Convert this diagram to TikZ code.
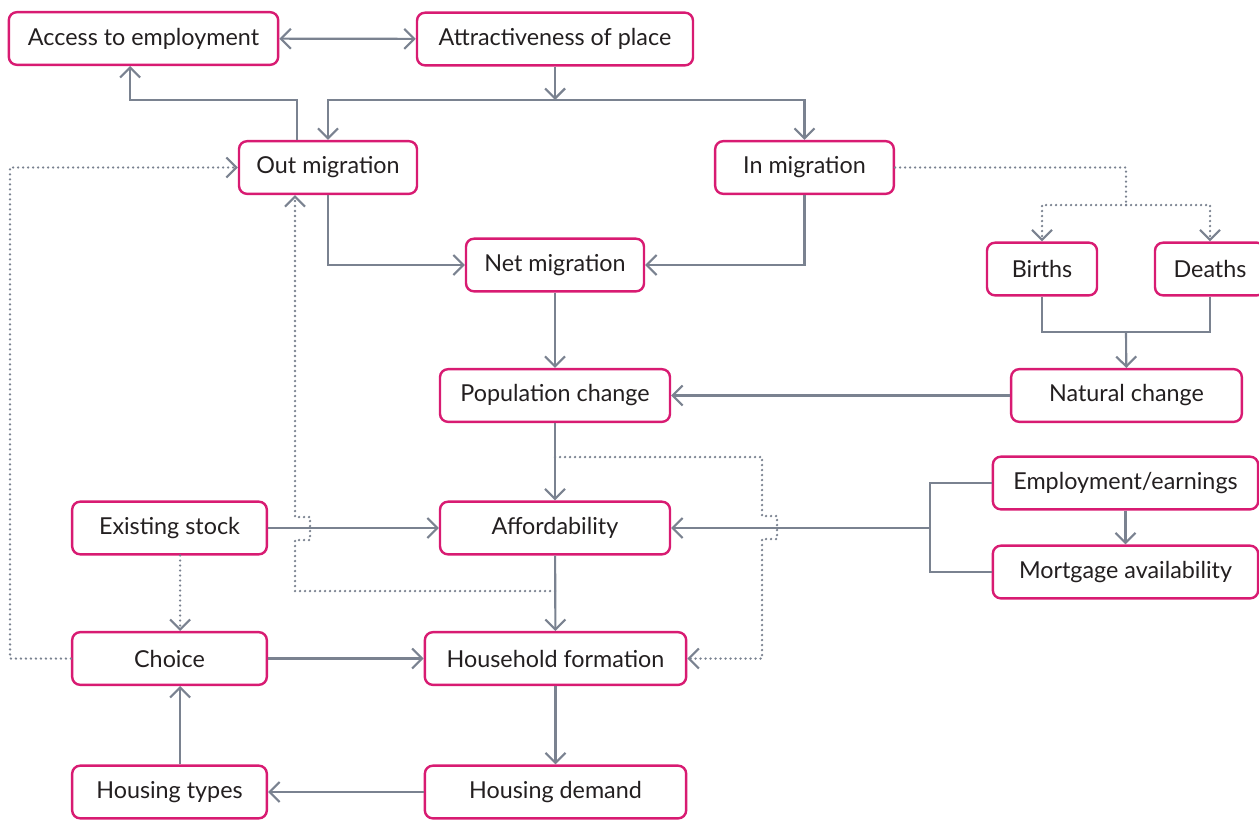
\documentclass[tikz,border=0pt]{standalone}
\usepackage{fontspec}
\setmainfont{Lato}
\usetikzlibrary{arrows.meta}
\definecolor{boxpink}{HTML}{D81B72}
\definecolor{linegrey}{HTML}{7A8290}
\definecolor{inkdark}{HTML}{231F20}
\tikzstyle{arrow} = [draw=linegrey, line width=1.6pt, -{Straight Barb[length=7.5pt, width=15pt, line width=1.6pt]}]
\tikzstyle{twoarrow} = [draw=linegrey, line width=1.6pt, {Straight Barb[length=7.5pt, width=15pt, line width=1.6pt]}-{Straight Barb[length=7.5pt, width=15pt, line width=1.6pt]}]
\tikzstyle{plain} = [draw=linegrey, line width=1.6pt]
\tikzstyle{dotarrow} = [draw=linegrey, line width=1.9pt, line cap=round, dash pattern=on 0pt off 3.75pt, -{Straight Barb[length=7.5pt, width=15pt, line width=1.6pt]}]
\tikzstyle{dotline} = [draw=linegrey, line width=1.9pt, line cap=round, dash pattern=on 0pt off 3.75pt]
\tikzstyle{roundRec} = [rectangle, rounded corners=6pt, minimum height=39.5pt, text centered, draw=boxpink, line width=1.8pt, fill=white, text=inkdark, font=\fontsize{17.5}{20}\selectfont]

\begin{document}
\begin{tikzpicture}[x=0.75pt, y=-0.75pt]
				\useasboundingbox (0,0) rectangle (1259,819);
				% boxes
				\node (access) [roundRec, minimum width=202pt] at (143.5,38.5) {Access to employment};
				\node (attract) [roundRec, minimum width=207pt] at (555,39) {Attractiveness of place};
				\node (outmig) [roundRec, minimum width=133.5pt] at (328,167.5) {Out migration};
				\node (inmig) [roundRec, minimum width=134pt] at (804.5,167.5) {In migration};
				\node (netmig) [roundRec, minimum width=133.5pt] at (555,265) {Net migration};
				\node (births) [roundRec, minimum width=82.5pt] at (1042,269) {Births};
				\node (deaths) [roundRec, minimum width=82.5pt] at (1210,269) {Deaths};
				\node (natural) [roundRec, minimum width=173pt] at (1126.5,395.5) {Natural change};
				\node (popchange) [roundRec, minimum width=172.5pt] at (555,395.5) {Population change};
				\node (employ) [roundRec, minimum width=199pt] at (1125.5,483) {Employment/earnings};
				\node (mortgage) [roundRec, minimum width=199pt] at (1125.5,572) {Mortgage availability};
				\node (stock) [roundRec, minimum width=146pt] at (169.5,528) {Existing stock};
				\node (afford) [roundRec, minimum width=172.5pt] at (555,528) {Affordability};
				\node (choice) [roundRec, minimum width=146pt] at (169.5,658.5) {Choice};
				\node (household) [roundRec, minimum width=196pt] at (555.5,658.5) {Household formation};
				\node (types) [roundRec, minimum width=146pt] at (169.5,792) {Housing types};
				\node (demand) [roundRec, minimum width=196pt] at (555.5,792) {Housing demand};
				% joints
				\coordinate (split) at (555,100);
				\coordinate (bendA) at (297,100);
				\coordinate (bd) at (1126,205);
				\coordinate (nd) at (1126,332);
				\coordinate (em) at (930,528);
				\coordinate (cl) at (10,658.5);
				\coordinate (pa) at (555,457);
				\coordinate (ah) at (555,591);
				% solid links
				\draw [twoarrow] (access) -- (attract);
				\draw [arrow] (attract) -- (split);
				\draw [arrow] (split) -| (outmig);
				\draw [arrow] (split) -| (inmig);
				\draw [arrow] (outmig.north -| bendA) -- (bendA) -| ([xshift=-10pt]access.south);
				\draw [arrow] (outmig) |- (netmig);
				\draw [arrow] (inmig) |- (netmig);
				\draw [plain] (births) |- (nd);
				\draw [plain] (deaths) |- (nd);
				\draw [arrow] (nd) -- (natural);
				\draw [arrow] (natural) -- (popchange);
				\draw [arrow] (netmig) -- (popchange);
				\draw [arrow] (popchange) -- (afford);
				\draw [plain] (employ) -| (em);
				\draw [plain] (mortgage) -| (em);
				\draw [arrow] (em) -- (afford);
				\draw [arrow] (employ) -- (mortgage);
				\draw [arrow] (stock) -- (afford);
				\draw [arrow] (afford) -- (household);
				\draw [arrow] (choice) -- (household);
				\draw [arrow] (household) -- (demand);
				\draw [arrow] (demand) -- (types);
				\draw [arrow] ([xshift=8pt]types.north) -- ([xshift=8pt]choice.south);
				% dotted links
				\draw [dotline] (inmig) -| (bd);
				\draw [dotarrow] (bd) -| (births);
				\draw [dotarrow] (bd) -| (deaths);
				\draw [dotarrow] ([xshift=8pt]stock.south) -- ([xshift=8pt]choice.north);
				\draw [dotarrow] (choice) -- (cl) |- (outmig);
				\draw [dotarrow] (pa) -- ++(207,0) -- ++(0,59) -- ++(15,0) -- ++(0,23) -- ++(-15,0) |- (household);
				\draw [dotarrow] (ah) -- ++(-260,0) -- ++(0,-51) -- ++(15,0) -- ++(0,-23) -- ++(-15,0) -- ([xshift=-24.75pt]outmig.south);
			\end{tikzpicture}
\end{document}
